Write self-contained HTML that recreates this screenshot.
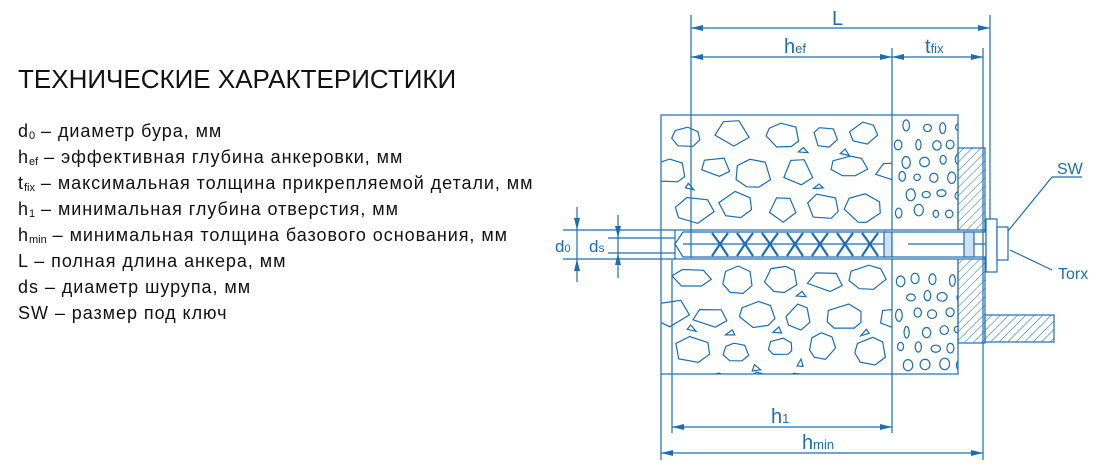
<!DOCTYPE html>
<html><head><meta charset="utf-8"><style>
html,body{margin:0;padding:0;background:#fff;width:1100px;height:473px;overflow:hidden;font-family:"Liberation Sans",sans-serif;}
.t{position:absolute;left:18px;top:64px;font-size:26px;color:#111;letter-spacing:0px}
.l{position:absolute;left:18px;font-size:18px;color:#111;line-height:20px;letter-spacing:0.95px;white-space:nowrap}
sub{font-size:11px;vertical-align:-2px;letter-spacing:0}
svg{position:absolute;left:0;top:0}
</style></head><body>
<div class="t">ТЕХНИЧЕСКИЕ ХАРАКТЕРИСТИКИ</div>
<div class="l" style="top:121px">d<sub>0</sub> – диаметр бура, мм</div>
<div class="l" style="top:147px">h<sub>ef</sub> – эффективная глубина анкеровки, мм</div>
<div class="l" style="top:173px">t<sub>fix</sub> – максимальная толщина прикрепляемой детали, мм</div>
<div class="l" style="top:199px">h<sub>1</sub> – минимальная глубина отверстия, мм</div>
<div class="l" style="top:225px">h<sub>min</sub> – минимальная толщина базового основания, мм</div>
<div class="l" style="top:251px">L – полная длина анкера, мм</div>
<div class="l" style="top:277px">ds – диаметр шурупа, мм</div>
<div class="l" style="top:303px">SW – размер под ключ</div>
<svg width="1100" height="473" viewBox="0 0 1100 473" xmlns="http://www.w3.org/2000/svg">
<defs>
<marker id="a" viewBox="0 0 12 6" refX="12" refY="3" markerWidth="12" markerHeight="6" orient="auto-start-reverse" markerUnits="userSpaceOnUse"><path d="M0,0L12,3L0,6z" fill="#1c6db3"/></marker>
<pattern id="h" width="6" height="6" patternUnits="userSpaceOnUse" patternTransform="rotate(45)"><line x1="0" y1="0" x2="0" y2="6" stroke="#1c6db3" stroke-width="1"/></pattern>
<clipPath id="c1"><rect x="661" y="115" width="231" height="259"/></clipPath>
<clipPath id="c2"><rect x="892" y="115" width="66" height="259"/></clipPath>
</defs>
<g stroke="#1c6db3" fill="none" stroke-width="1.2">
<rect x="661" y="115" width="297" height="259" fill="#fff"/>
<g id="stones" clip-path="url(#c1)"></g>
<g id="pebbles" clip-path="url(#c2)"></g>
<line x1="892" y1="48" x2="892" y2="433"/>
<rect x="958" y="148" width="27" height="195" fill="url(#h)"/>
<rect x="985" y="315" width="69" height="27" fill="url(#h)"/>
<rect x="675" y="230" width="310" height="29" fill="#fff"/>
<path d="M675,244 L683,232 L886,232 L886,257 L683,257 Z" fill="#fff"/>
<line x1="683" y1="244" x2="886" y2="244"/>
<g id="wings"></g>
<rect x="884" y="232" width="8" height="25" fill="#cfe0f2"/>
<rect x="892" y="232" width="94" height="25" fill="#fff"/>
<line x1="908" y1="244" x2="986" y2="244"/>
<rect x="964" y="232" width="10" height="25" fill="#cfe0f2"/>
<rect x="986" y="219" width="11" height="53" fill="#fff"/>
<rect x="997" y="227" width="11" height="33" fill="#fff"/>
<line x1="691" y1="15" x2="691" y2="258"/>
<line x1="983" y1="48" x2="983" y2="460"/>
<line x1="990" y1="15" x2="990" y2="219"/>
<line x1="661" y1="374" x2="661" y2="460"/>
<line x1="672" y1="260" x2="672" y2="433"/>
<line x1="691" y1="28" x2="990" y2="28" marker-start="url(#a)" marker-end="url(#a)"/>
<line x1="691" y1="57" x2="892" y2="57" marker-start="url(#a)" marker-end="url(#a)"/>
<line x1="892" y1="57" x2="983" y2="57" marker-start="url(#a)" marker-end="url(#a)"/>
<line x1="672" y1="427" x2="892" y2="427" marker-start="url(#a)" marker-end="url(#a)"/>
<line x1="661" y1="453" x2="983" y2="453" marker-start="url(#a)" marker-end="url(#a)"/>
<line x1="563" y1="230" x2="675" y2="230"/><line x1="563" y1="259" x2="675" y2="259"/>
<line x1="608" y1="238" x2="675" y2="238"/><line x1="608" y1="253" x2="675" y2="253"/>
<line x1="577" y1="207" x2="577" y2="230" marker-end="url(#a)"/><line x1="577" y1="282" x2="577" y2="259" marker-end="url(#a)"/>
<line x1="577" y1="230" x2="577" y2="259"/>
<line x1="618" y1="215" x2="618" y2="238" marker-end="url(#a)"/><line x1="618" y1="278" x2="618" y2="253" marker-end="url(#a)"/>
<line x1="618" y1="238" x2="618" y2="253"/>
<polyline points="1008,231 1052,177 1082,177"/>
<line x1="1010" y1="250" x2="1052" y2="270"/>
</g>
<g fill="#1c6db3" font-family="Liberation Sans,sans-serif" font-size="20">
<text x="832" y="25">L</text>
<text x="784" y="53">h<tspan font-size="13">ef</tspan></text>
<text x="925" y="53">t<tspan font-size="13">fix</tspan></text>
<text x="771" y="423">h<tspan font-size="13">1</tspan></text>
<text x="802" y="449">h<tspan font-size="13">min</tspan></text>
<text x="555" y="252" font-size="17">d<tspan font-size="11">0</tspan></text>
<text x="589" y="252" font-size="17">d<tspan font-size="12">s</tspan></text>
<text x="1057" y="174" font-size="16">SW</text>
<text x="1058" y="279" font-size="16">Torx</text>
</g>
</svg>
<script>
var s=7;function r(){s=(s*16807)%2147483647;return s/2147483647;}
var ns="http://www.w3.org/2000/svg",g=document.getElementById("stones");
for(var y=130;y<385;y+=36){for(var x=664+((y/36|0)%2)*22;x<900;x+=44){
 var cx=x+r()*10,cy=y+r()*8,rx=12+r()*8,ry=9+r()*6,n=5+(r()*3|0),p=[];
 if(cy>220&&cy<270)continue;
 for(var i=0;i<n;i++){var a=i/n*6.283+r()*0.5;p.push((cx+Math.cos(a)*rx).toFixed(1)+","+(cy+Math.sin(a)*ry).toFixed(1));}
 var e=document.createElementNS(ns,"polygon");e.setAttribute("points",p.join(" "));g.appendChild(e);
 if(r()<0.5){var q=[],c2x=cx+20,c2y=cy+16;for(var i=0;i<3;i++){var a=i/3*6.283+r();q.push((c2x+Math.cos(a)*5).toFixed(1)+","+(c2y+Math.sin(a)*4).toFixed(1));}
 if(!(c2y>222&&c2y<268)){var f=document.createElementNS(ns,"polygon");f.setAttribute("points",q.join(" "));g.appendChild(f);}}
}}
var h=document.getElementById("pebbles");
for(var y=125;y<375;y+=17){for(var x=898+((y/17|0)%2)*8;x<958;x+=17){
 if(y>222&&y<265)continue;
 var e=document.createElementNS(ns,"ellipse");e.setAttribute("cx",x+r()*5);e.setAttribute("cy",y+r()*4);
 e.setAttribute("rx",2.5+r()*2.5);e.setAttribute("ry",3+r()*3);h.appendChild(e);}}
var w=document.getElementById("wings");
for(var k=0;k<7;k++){var x=712+k*25;var e=document.createElementNS(ns,"path");
 e.setAttribute("d","M"+x+",233 L"+(x+8)+",244 L"+x+",256 M"+(x+16)+",233 L"+(x+8)+",244 L"+(x+16)+",256");
 e.setAttribute("stroke-width","2.2");w.appendChild(e);}
</script>
</body></html>
